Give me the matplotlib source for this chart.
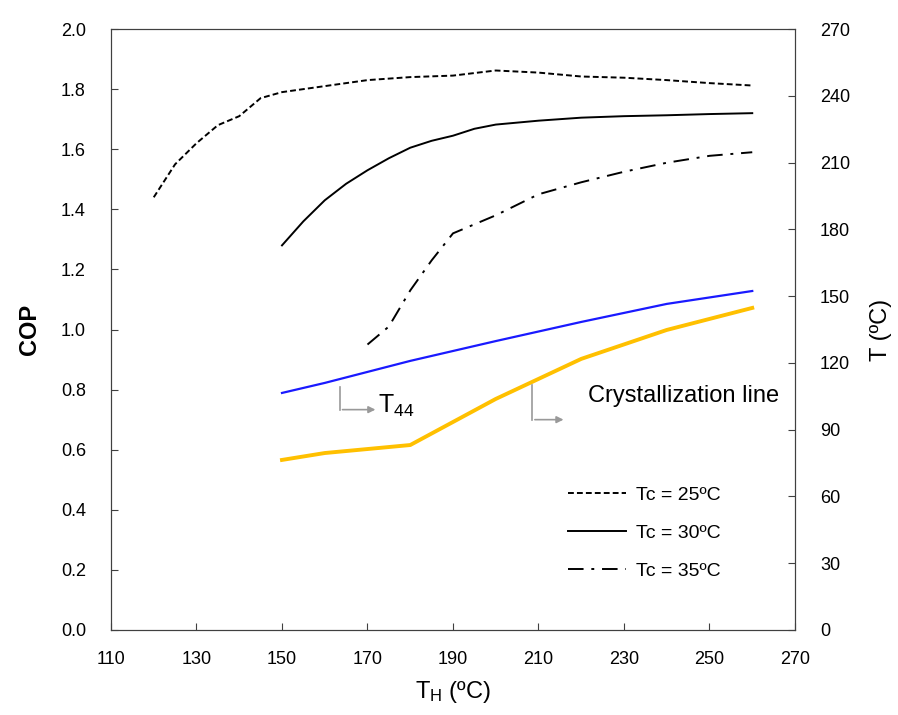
import matplotlib
matplotlib.use("Agg")
import matplotlib.pyplot as plt

plt.rcParams["font.family"] = ["Liberation Sans", "DejaVu Sans"]
plt.rcParams["mathtext.fontset"] = "custom"
plt.rcParams["mathtext.rm"] = "Liberation Sans"
plt.rcParams["mathtext.it"] = "Liberation Sans"

# COP curves (left axis)
th_25 = [120, 125, 130, 135, 140, 145, 150, 160, 170, 180, 190, 200, 210, 220, 230, 240, 250, 260]
cop_25 = [1.44, 1.55, 1.62, 1.68, 1.71, 1.77, 1.79, 1.81, 1.83, 1.84, 1.845, 1.862, 1.855, 1.842, 1.838, 1.83, 1.82, 1.812]
th_30 = [150, 155, 160, 165, 170, 175, 180, 185, 190, 195, 200, 210, 220, 230, 240, 250, 260]
cop_30 = [1.28, 1.36, 1.43, 1.485, 1.53, 1.57, 1.605, 1.628, 1.645, 1.668, 1.682, 1.695, 1.705, 1.71, 1.713, 1.717, 1.72]
th_35 = [170, 175, 180, 185, 190, 200, 210, 220, 230, 240, 250, 260]
cop_35 = [0.95, 1.01, 1.13, 1.23, 1.32, 1.38, 1.45, 1.49, 1.525, 1.555, 1.578, 1.59]

# temperature curves (right axis)
th_t44 = [150, 160, 180, 200, 220, 240, 260]
t44 = [106.5, 111.0, 120.9, 129.8, 138.4, 146.5, 152.3]
th_cry = [150, 160, 180, 200, 220, 240, 260]
t_cry = [76.4, 79.5, 83.1, 103.8, 121.8, 134.8, 144.7]

fig = plt.figure(figsize=(8.98, 7.15), dpi=100)
ax = fig.add_axes([0.1236, 0.1189, 0.7617, 0.8405])
ax2 = ax.twinx()

ax.plot(th_25, cop_25, color="k", lw=1.4, linestyle=(0, (3, 1.6)), label="Tc = 25ºC")
ax.plot(th_30, cop_30, color="k", lw=1.4, linestyle="-", label="Tc = 30ºC")
ax.plot(th_35, cop_35, color="k", lw=1.4, linestyle=(0, (8, 4, 1.5, 4)), label="Tc = 35ºC")

ax2.plot(th_t44, t44, color="#1a1aff", lw=1.6)
ax2.plot(th_cry, t_cry, color="#ffc000", lw=2.8)

ax.set_xlim(110, 270)
ax.set_ylim(0, 2.0)
ax2.set_ylim(0, 270)
ax.set_xticks(range(110, 271, 20))
ax.set_yticks([i / 10 for i in range(0, 21, 2)])
ax.set_yticklabels(["%.1f" % (i / 10) for i in range(0, 21, 2)])
ax2.set_yticks(range(0, 271, 30))

for a in (ax, ax2):
    a.tick_params(direction="in", labelsize=13, length=5, color="#404040")
    for s in a.spines.values():
        s.set_color("#404040")
ax.tick_params(axis="x", pad=15)
ax.tick_params(axis="y", pad=18)
ax2.tick_params(axis="y", pad=18)

ax.set_ylabel("COP", fontsize=17, fontweight="bold", labelpad=14)
ax2.set_ylabel("T (ºC)", fontsize=17, labelpad=14)
ax.set_xlabel("T$_\\mathrm{H}$ (ºC)", fontsize=17, labelpad=8)

# annotations
grey = "#999999"
ax2.annotate("", xy=(172.5, 99), xytext=(163.5, 99),
             arrowprops=dict(arrowstyle="-|>", color=grey, lw=1.2, mutation_scale=10))
ax2.plot([163.5, 163.5], [99, 109], color=grey, lw=1.2)
ax2.text(172.5, 100.5, "T$_{44}$", fontsize=18, color="k", ha="left", va="center")

ax2.annotate("", xy=(216.5, 94.5), xytext=(208.5, 94.5),
             arrowprops=dict(arrowstyle="-|>", color=grey, lw=1.2, mutation_scale=10))
ax2.plot([208.5, 208.5], [94.5, 110], color=grey, lw=1.2)
ax2.text(221.5, 105, "Crystallization line", fontsize=17, color="k", ha="left", va="center")

leg = ax.legend(loc="lower right", bbox_to_anchor=(0.917, 0.054), frameon=False,
                fontsize=14, handlelength=3.0, labelspacing=1.05, handletextpad=0.5)

fig.savefig("out.png", dpi=100)
